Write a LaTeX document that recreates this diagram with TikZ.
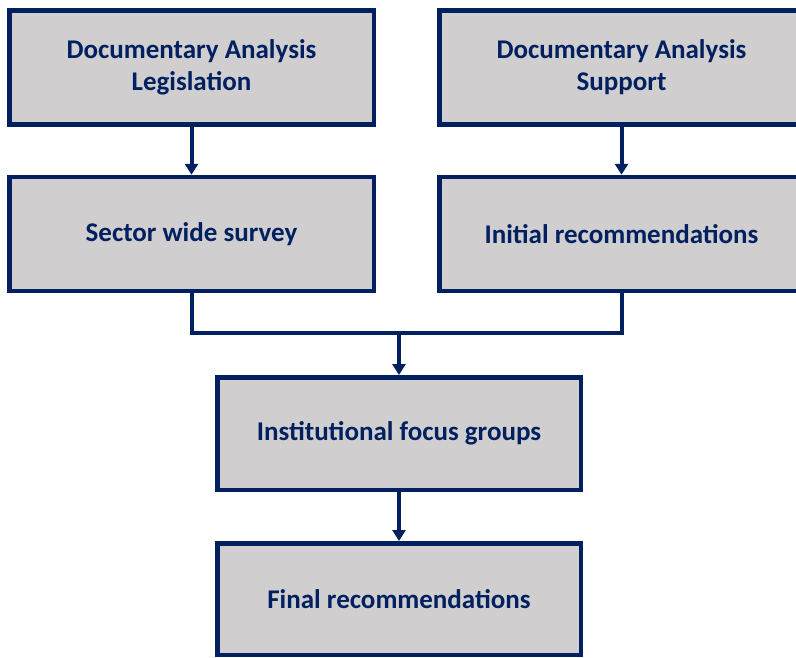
\documentclass[tikz,border=0pt]{standalone}
\usepackage{fontspec}
\setmainfont{Carlito}
\usetikzlibrary{arrows.meta}
\definecolor{navy}{HTML}{002060}
\definecolor{boxgray}{HTML}{D0CECE}
\begin{document}
\begin{tikzpicture}[x=1pt,y=-1pt,
  box/.style={draw=navy,fill=boxgray,line width=4.5pt,inner sep=0pt,
    minimum width=364.5pt,minimum height=114pt,align=center,
    text=navy,font=\fontsize{27}{32}\selectfont\bfseries},
  conn/.style={draw=navy,line width=4pt},
  arr/.style={conn,-{Triangle[width=13pt,length=11pt]}}]
\useasboundingbox (0,0) rectangle (796,657);
\node[box] (b1) at (191.5,67.5) {Documentary Analysis\\Legislation};
\node[box] (b2) at (621.5,67.5) {Documentary Analysis\\Support};
\node[box] (b3) at (191.5,234) {Sector wide survey};
\node[box] (b4) at (621.5,234) {Initial recommendations};
\node[box,minimum width=363.5pt,minimum height=112.5pt] (b5) at (399,433.5) {Institutional focus groups};
\node[box,minimum width=363.5pt,minimum height=111.5pt] (b6) at (399,599) {Final recommendations};
\coordinate (m) at (399,333);
\draw[arr] (b1) -- (b3);
\draw[arr] (b2) -- (b4);
\draw[conn] (b3.south) |- (m) -| (b4.south);
\draw[arr] (m) -- (b5.north);
\draw[arr] (b5) -- (b6);
\end{tikzpicture}
\end{document}
